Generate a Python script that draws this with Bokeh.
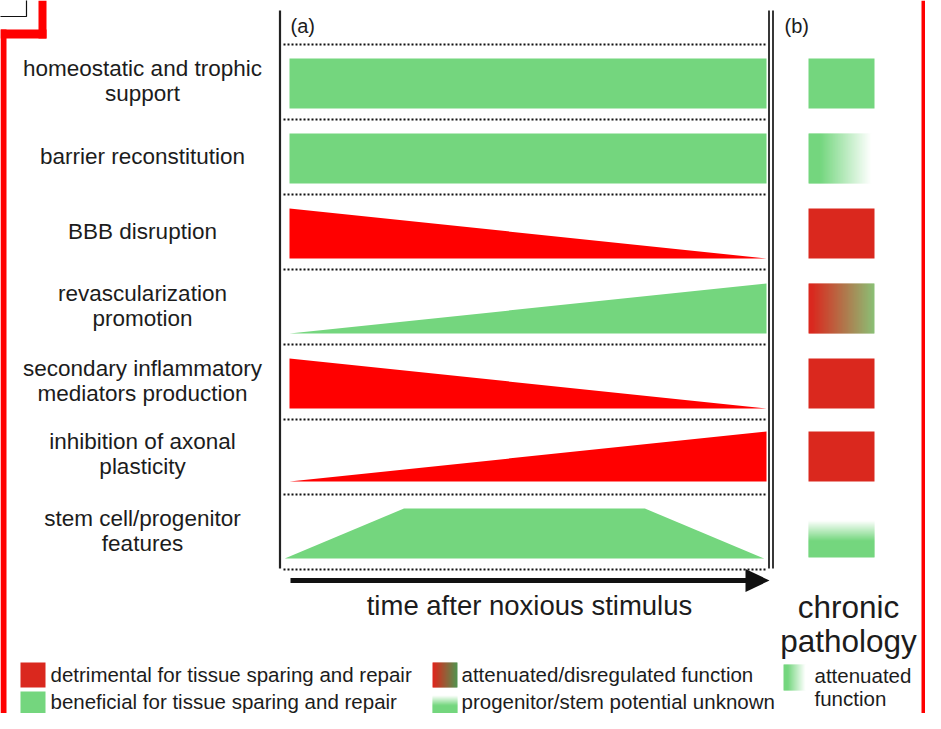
import numpy as np
from bokeh.plotting import figure
from bokeh.models import Range1d
from bokeh.embed import file_html
from bokeh.resources import INLINE
from bokeh.core.properties import value

# ---------------- data ----------------
row_labels = [
    ["homeostatic and trophic", "support"],
    ["barrier reconstitution"],
    ["BBB disruption"],
    ["revascularization", "promotion"],
    ["secondary inflammatory", "mediators production"],
    ["inhibition of axonal", "plasticity"],
    ["stem cell/progenitor", "features"],
]
row_effect = ["beneficial", "beneficial", "detrimental", "beneficial",
              "detrimental", "detrimental", "beneficial"]
# time course (fraction of the time axis) and relative level of each function
row_time = [[0, 1], [0, 1], [0, 1], [0, 1], [0, 1], [0, 1],
            [-0.01, 0.24, 0.745, 0.995]]
row_level = [[1, 1], [1, 1], [1, 0], [0, 1], [1, 0], [0, 1], [0, 1, 1, 0]]
# state in chronic pathology (panel b)
chronic_state = ["beneficial", "attenuated", "detrimental", "disregulated",
                 "detrimental", "detrimental", "unknown"]
legend_left = [("detrimental", "detrimental for tissue sparing and repair"),
               ("beneficial", "beneficial for tissue sparing and repair")]
legend_mid = [("disregulated", "attenuated/disregulated function"),
              ("unknown", "progenitor/stem potential unknown")]
legend_right_state = "attenuated"
legend_right_text = ["attenuated", "function"]
time_label = "time after noxious stimulus"
panel_b_title = ["chronic", "pathology"]
panel_tags = ["(a)", "(b)"]

# ---------------- style ----------------
FONT = value("Liberation Sans")
TXT = "#1c1c1c"
GREEN = (116, 214, 126)
RED_A = (255, 0, 0)
RED_B = (218, 40, 30)
WHITE = (255, 255, 255)


def hexc(c):
    return "#%02x%02x%02x" % tuple(int(round(v)) for v in c)


def interp(stops, t):
    for (p0, c0), (p1, c1) in zip(stops[:-1], stops[1:]):
        if t <= p1:
            f = 0 if p1 == p0 else (t - p0) / (p1 - p0)
            f = min(max(f, 0), 1)
            return tuple(a + (b - a) * f for a, b in zip(c0, c1))
    return stops[-1][1]


GQ = dict(left=[], right=[], top=[], bottom=[], color=[])


def grad(x0, x1, y0, y1, stops, horizontal=True, solid=False):
    if solid:
        GQ["left"].append(x0); GQ["right"].append(x1)
        GQ["top"].append(y0); GQ["bottom"].append(y1)
        GQ["color"].append(hexc(stops[0][1]))
        return
    n = int(round(abs((x1 - x0) if horizontal else (y1 - y0))))
    for i in range(n):
        t = (i + 0.5) / n
        c = hexc(interp(stops, t))
        if horizontal:
            a = x0 + (x1 - x0) * i / n
            b = x0 + (x1 - x0) * (i + 1) / n + (0.5 if i < n - 1 else 0)
            GQ["left"].append(a); GQ["right"].append(b)
            GQ["top"].append(y0); GQ["bottom"].append(y1)
        else:
            a = y0 + (y1 - y0) * i / n
            b = y0 + (y1 - y0) * (i + 1) / n + (0.5 if i < n - 1 else 0)
            GQ["left"].append(x0); GQ["right"].append(x1)
            GQ["top"].append(a); GQ["bottom"].append(b)
        GQ["color"].append(c)


def swatch(state, x0, x1, y0, y1, dis_end=(138, 192, 118)):
    if state == "beneficial":
        grad(x0, x1, y0, y1, [(0, GREEN)], solid=True)
    elif state == "detrimental":
        grad(x0, x1, y0, y1, [(0, RED_B)], solid=True)
    elif state == "attenuated":
        grad(x0, x1, y0, y1, [(0, GREEN), (0.18, GREEN), (0.95, WHITE), (1, WHITE)])
    elif state == "disregulated":
        grad(x0, x1, y0, y1, [(0, RED_B), (0.05, RED_B), (1, dis_end)])
    elif state == "unknown":
        grad(x0, x1, y0, y1, [(0, WHITE), (0.55, GREEN), (1, GREEN)], horizontal=False)


# ---------------- figure ----------------
W, H = 925, 713
p = figure(width=W, height=H, x_range=Range1d(0, W), y_range=Range1d(H, 0),
           output_backend="svg", toolbar_location=None, min_border=0,
           x_axis_type=None, y_axis_type=None)
p.grid.visible = False
p.outline_line_color = None
p.background_fill_color = "white"
p.border_fill_color = "white"

ROW0, ROWH = 44, 75
XA0, XA1 = 289, 766          # time axis span in panel (a)
BX0, BX1 = 808, 874          # panel (b) swatch span
ROW_SHIFT = [0, 0, 0, 0, 0, -2, 0]   # small per-row vertical nudge

# dotted separators
n = len(row_labels)
sep_y = [ROW0 + i * ROWH for i in range(n + 1)]
p.multi_line(xs=[[283, 766]] * len(sep_y), ys=[[y, y] for y in sep_y],
             line_color="#111111", line_width=2.2, line_dash="2 2")

# vertical frame lines
p.segment(x0=[279.5, 768.5, 772.5], y0=[10, 10, 10], x1=[279.5, 768.5, 772.5],
          y1=[568, 568, 568], line_color="#222222", line_width=[2.2, 1.8, 1.8])

# profiles in panel (a)
pxs, pys, pcol = [], [], []
for i in range(n):
    top = ROW0 + i * ROWH + 14 + ROW_SHIFT[i]
    bot = top + 50
    xs = [XA0 + t * (XA1 - XA0) for t in row_time[i]]
    ys = [bot - lv * (bot - top) for lv in row_level[i]]
    pxs.append(xs + xs[::-1])
    pys.append(ys + [bot] * len(xs))
    pcol.append(hexc(GREEN) if row_effect[i] == "beneficial" else hexc(RED_A))
p.patches(xs=pxs, ys=pys, fill_color=pcol, line_color=None)

# panel (b) swatches
for i in range(n):
    top = ROW0 + i * ROWH + 14 + ROW_SHIFT[i]
    bot = top + 50
    if chronic_state[i] == "unknown":
        top = top + 12
        bot = bot - 1
    swatch(chronic_state[i], BX0, BX1, top, bot)

# legend swatches (two rows, compressed to fit the page)
LR1, LR2 = 674, 701
swatch(legend_left[0][0], 20, 45, LR1 - 12, LR1 + 13)
swatch(legend_left[1][0], 20, 45, LR2 - 10, H)
swatch(legend_mid[0][0], 432, 457, LR1 - 12, LR1 + 13, dis_end=(80, 148, 80))
swatch(legend_mid[1][0], 432, 457, LR2 - 6, H)
swatch(legend_right_state, 783, 806, LR1 - 10, LR1 + 16)

p.quad(left="left", right="right", top="top", bottom="bottom",
       fill_color="color", line_color=None, source=GQ)

# row labels
lx, ly, lt = [], [], []
for i, lines in enumerate(row_labels):
    c = ROW0 + i * ROWH + 37.5 + ROW_SHIFT[i]
    k = len(lines)
    for j, s in enumerate(lines):
        lx.append(142)
        ly.append(c - 1 + (j - (k - 1) / 2) * 25.5)
        lt.append(s)
p.text(x=lx, y=ly, text=lt, text_font=FONT, text_font_size="22.5px",
       text_align="center", text_baseline="middle", text_color=TXT)

# panel tags
p.text(x=[290, 784], y=[25, 25], text=panel_tags, text_font=FONT,
       text_font_size="20px", text_align="left", text_baseline="middle", text_color=TXT)

# time arrow
p.segment(x0=[290], y0=[580], x1=[750], y1=[580], line_color="#111111", line_width=5)
p.patch(x=[745, 769, 745], y=[568.5, 580, 591.5], fill_color="#111111", line_color=None)
p.text(x=[529], y=[605], text=[time_label], text_font=FONT, text_font_size="27.5px",
       text_align="center", text_baseline="middle", text_color=TXT)

# chronic pathology title
p.text(x=[848, 848], y=[606, 640], text=panel_b_title, text_font=FONT,
       text_font_size="31.5px", text_align="center", text_baseline="middle", text_color=TXT)

# legend text
p.text(x=[50, 50, 461, 461, 814, 814], y=[LR1, LR2, LR1, LR2, LR1 + 1, LR1 + 24],
       text=[legend_left[0][1], legend_left[1][1], legend_mid[0][1], legend_mid[1][1]]
       + legend_right_text,
       text_font=FONT, text_font_size="20.5px", text_align="left",
       text_baseline="middle", text_color=TXT)

# red page border and corner box
p.quad(left=[921, 0, 38, 0], right=[926, 46, 46, 6], top=[0, 29, 0, 29],
       bottom=[H, 38, 38, H], fill_color="#ff0000", line_color=None)
p.quad(left=[-2], right=[26], top=[-2], bottom=[16], fill_color="white",
       line_color="#111111", line_width=1.2)

open("out.html", "w").write(file_html(p, INLINE))
